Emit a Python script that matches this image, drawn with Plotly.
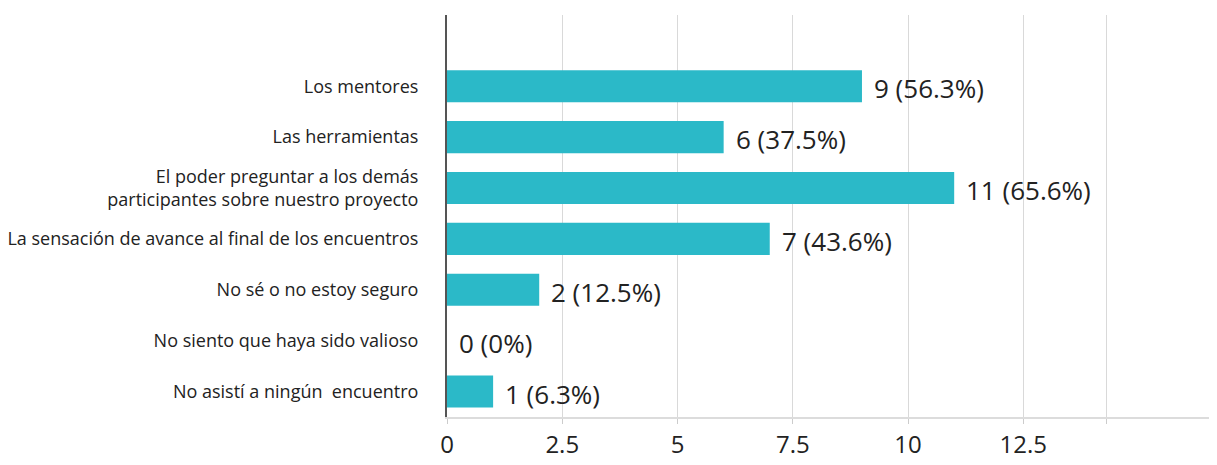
import plotly.graph_objects as go

# survey answers, top to bottom
categories = [
    "Los mentores",
    "Las herramientas",
    "El poder preguntar a los demás<br>participantes sobre nuestro proyecto",
    "La sensación de avance al final de los encuentros",
    "No sé o no estoy seguro",
    "No siento que haya sido valioso",
    "No asistí a ningún  encuentro",
]
counts = [9, 6, 11, 7, 2, 0, 1]
percents = ["56.3%", "37.5%", "65.6%", "43.6%", "12.5%", "0%", "6.3%"]

tick_vals = [0, 2.5, 5, 7.5, 10, 12.5, 14.3]
tick_text = ["0", "2.5", "5", "7.5", "10", "12.5", ""]

labels = [f"{c} ({p})" for c, p in zip(counts, percents)]

fig = go.Figure()

fig.add_trace(go.Bar(
    x=counts,
    y=categories,
    orientation="h",
    marker=dict(color="#2bb9c8", line=dict(width=0)),
    hoverinfo="x+y",
))

# value labels to the right of each bar
for c, cat, lab in zip(counts, categories, labels):
    fig.add_annotation(
        x=c, y=cat, text=lab,
        xanchor="left", yanchor="middle",
        xshift=10, yshift=-2,
        showarrow=False,
        font=dict(size=26, color="#222222", family="Open Sans"),
    )

# page body has an 8px margin, so the figure is a bit smaller than the window
fig.update_layout(
    width=1209,
    height=457,
    margin=dict(l=439, r=0, t=7, b=48),
    plot_bgcolor="white",
    paper_bgcolor="white",
    font=dict(family="Open Sans", color="#222222"),
    bargap=0.37,
    showlegend=False,
)

fig.update_xaxes(
    range=[0, 16.7],
    tickvals=tick_vals,
    ticktext=tick_text,
    tickfont=dict(size=24, color="#222222"),
    showgrid=True,
    gridcolor="#d9d9d9",
    gridwidth=1,
    zeroline=False,
    showline=True,
    linecolor="#dcdcdc",
    linewidth=2,
    ticks="outside",
    ticklen=5,
    tickcolor="#cccccc",
    automargin=False,
)

fig.update_yaxes(
    categoryorder="array",
    categoryarray=categories,
    range=[6.5, -1.4],
    tickfont=dict(size=18, color="#222222"),
    ticklabelstandoff=23,
    showline=True,
    linecolor="#555555",
    linewidth=2,
    showgrid=False,
    zeroline=False,
    ticks="",
    automargin=False,
)

fig.write_html("out.html")
